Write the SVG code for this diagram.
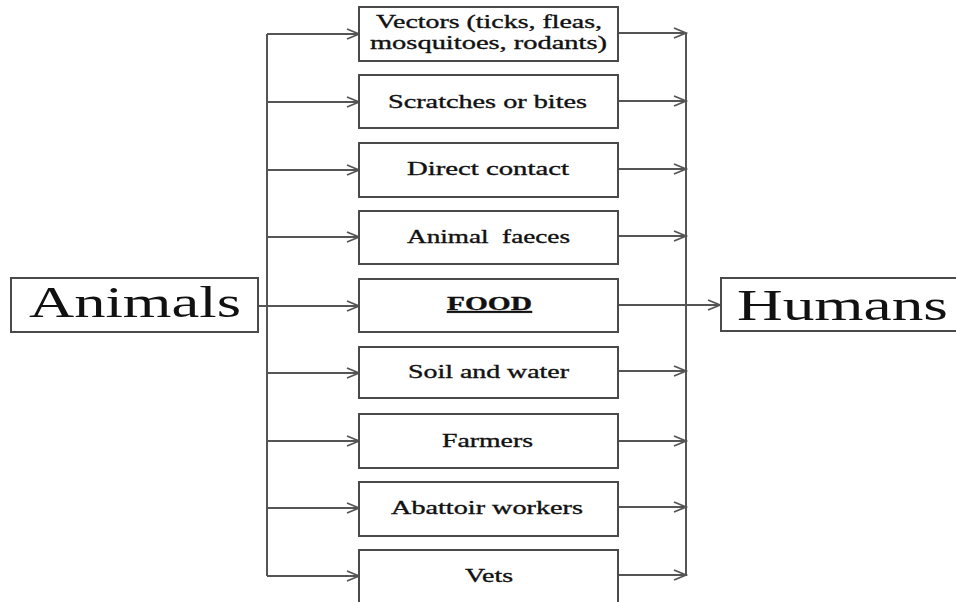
<svg xmlns="http://www.w3.org/2000/svg" width="956" height="602" viewBox="0 0 956 602">
<defs>
<style>
.box{fill:#fff;stroke:#4a4a4a;stroke-width:2}
.ln{fill:none;stroke:#555;stroke-width:2}
.t{font-family:"Liberation Serif","Times New Roman",serif;fill:#111;font-size:19px;stroke:#111;stroke-width:0.35}
.big{font-family:"Liberation Serif","Times New Roman",serif;fill:#111;font-size:44px}
</style>
<marker id="ah" markerUnits="userSpaceOnUse" markerWidth="14" markerHeight="12" refX="12" refY="6" orient="auto" overflow="visible">
<path d="M0,1 L12,6 L0,11" fill="none" stroke="#555" stroke-width="1.8"/>
</marker>
</defs>
<rect width="956" height="602" fill="#fff"/>
<g id="connectors">
<path class="ln" d="M267,34 V576"/>
<path class="ln" d="M686,33 V576"/>
<path class="ln" d="M258,306 H267"/>
<path class="ln" marker-end="url(#ah)" d="M267,34 H359"/>
<path class="ln" marker-end="url(#ah)" d="M267,102 H359"/>
<path class="ln" marker-end="url(#ah)" d="M267,170 H359"/>
<path class="ln" marker-end="url(#ah)" d="M267,237 H359"/>
<path class="ln" marker-end="url(#ah)" d="M267,306 H359"/>
<path class="ln" marker-end="url(#ah)" d="M267,373 H359"/>
<path class="ln" marker-end="url(#ah)" d="M267,441 H359"/>
<path class="ln" marker-end="url(#ah)" d="M267,508 H359"/>
<path class="ln" marker-end="url(#ah)" d="M267,576 H359"/>
<path class="ln" marker-end="url(#ah)" d="M618,33 H686"/>
<path class="ln" marker-end="url(#ah)" d="M618,101 H686"/>
<path class="ln" marker-end="url(#ah)" d="M618,169 H686"/>
<path class="ln" marker-end="url(#ah)" d="M618,236 H686"/>
<path class="ln" marker-end="url(#ah)" d="M618,305 H720"/>
<path class="ln" marker-end="url(#ah)" d="M618,371 H686"/>
<path class="ln" marker-end="url(#ah)" d="M618,441 H686"/>
<path class="ln" marker-end="url(#ah)" d="M618,507 H686"/>
<path class="ln" marker-end="url(#ah)" d="M618,575 H686"/>
</g>
<g id="animals">
<rect class="box" x="11" y="278" width="247" height="54"/>
<text class="big" x="29" y="317" textLength="212" lengthAdjust="spacingAndGlyphs">Animals</text>
</g>
<g id="humans">
<rect class="box" x="721" y="278" width="245" height="53"/>
<text class="big" x="737" y="320" textLength="211" lengthAdjust="spacingAndGlyphs">Humans</text>
</g>
<g id="vectors">
<rect class="box" x="359" y="7" width="259" height="54"/>
<text class="t" x="376" y="28" textLength="226" lengthAdjust="spacingAndGlyphs">Vectors (ticks, fleas,</text>
<text class="t" x="370" y="49" textLength="237" lengthAdjust="spacingAndGlyphs">mosquitoes, rodants)</text>
</g>
<g id="scratches">
<rect class="box" x="359" y="75" width="259" height="53"/>
<text class="t" x="388" y="108" textLength="199" lengthAdjust="spacingAndGlyphs">Scratches or bites</text>
</g>
<g id="direct">
<rect class="box" x="359" y="143" width="259" height="54"/>
<text class="t" x="407" y="175" textLength="162" lengthAdjust="spacingAndGlyphs">Direct contact</text>
</g>
<g id="faeces">
<rect class="box" x="359" y="211" width="259" height="53"/>
<text class="t" x="407" y="243" textLength="163" lengthAdjust="spacingAndGlyphs" xml:space="preserve">Animal  faeces</text>
</g>
<g id="food">
<rect class="box" x="359" y="279" width="259" height="53"/>
<text class="t" x="447" y="310" font-weight="bold" font-size="17" text-decoration="underline" textLength="85" lengthAdjust="spacingAndGlyphs">FOOD</text>
</g>
<g id="soil">
<rect class="box" x="359" y="347" width="259" height="51"/>
<text class="t" x="408" y="378" textLength="161" lengthAdjust="spacingAndGlyphs">Soil and water</text>
</g>
<g id="farmers">
<rect class="box" x="359" y="414" width="259" height="54"/>
<text class="t" x="442" y="447" textLength="91" lengthAdjust="spacingAndGlyphs">Farmers</text>
</g>
<g id="abattoir">
<rect class="box" x="359" y="482" width="259" height="54"/>
<text class="t" x="391" y="514" textLength="192" lengthAdjust="spacingAndGlyphs">Abattoir workers</text>
</g>
<g id="vets">
<rect class="box" x="359" y="550" width="259" height="60"/>
<text class="t" x="465" y="582" textLength="48" lengthAdjust="spacingAndGlyphs">Vets</text>
</g>
</svg>
